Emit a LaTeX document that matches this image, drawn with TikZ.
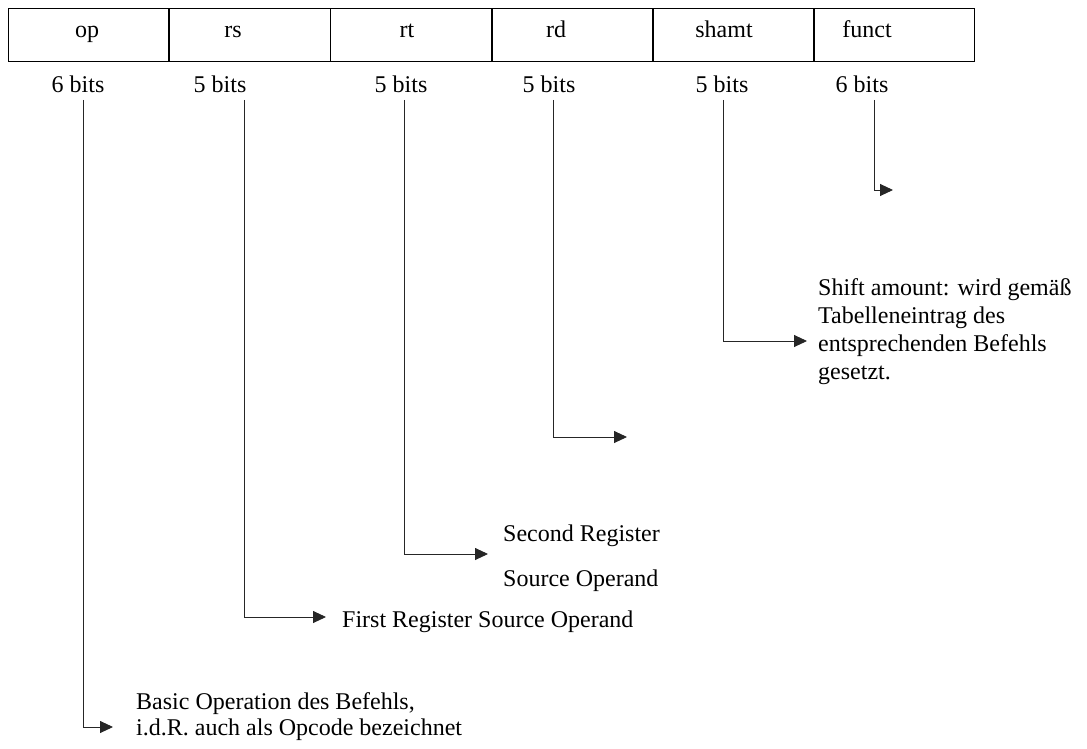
\documentclass[tikz,border=0pt]{standalone}
\usepackage{fontspec}
\setmainfont{Liberation Serif}
\usetikzlibrary{arrows.meta,positioning}
\tikzset{%
    field/.style={%
        rectangle, draw, line width=0.9pt, minimum width=160.3pt, minimum height=53pt, inner sep=0pt
    },
    fieldname/.style={%
        anchor=base, inner sep=0pt
    },
    desc/.style={%
        anchor=base west, align=left, inner sep=0pt
    },
    pointer/.style={%
        -{Triangle[length=13pt,width=12pt]}, line width=0.9pt, draw=black!85
    },
}

\begin{document}
\begin{tikzpicture}[x=1pt,y=-1pt,font=\fontsize{24}{26}\selectfont]
      \useasboundingbox (0,0) rectangle (1087,749);

      % instruction word
      \node[field, anchor=north west] (op) at (8,8) {};
      \node[field, right=0pt of op] (rs) {};
      \node[field, right=0pt of rs] (rt) {};
      \node[field, right=0pt of rt] (rd) {};
      \node[field, right=0pt of rd] (shamt) {};
      \node[field, right=0pt of shamt] (funct) {};

      \node[fieldname] (opname) at (87,38) {op};
      \node[fieldname] (rsname) at (233,38) {rs};
      \node[fieldname] (rtname) at (407,38) {rt};
      \node[fieldname] (rdname) at (556,38) {rd};
      \node[fieldname] (shamtname) at (724,38) {shamt};
      \node[fieldname] (functname) at (867,38) {funct};

      \node[fieldname] (opbits) at (78,93) {6 bits};
      \node[fieldname] (rsbits) at (220,93) {5 bits};
      \node[fieldname] (rtbits) at (401,93) {5 bits};
      \node[fieldname] (rdbits) at (549,93) {5 bits};
      \node[fieldname] (shamtbits) at (722,93) {5 bits};
      \node[fieldname] (functbits) at (862,93) {6 bits};

      % pointers
      \coordinate (optop) at (83,100);
      \coordinate (opend) at (113,727);
      \coordinate (rstop) at (244,100);
      \coordinate (rsend) at (326,617);
      \coordinate (rttop) at (404,100);
      \coordinate (rtend) at (488,554);
      \coordinate (rdtop) at (553,100);
      \coordinate (rdend) at (627,437);
      \coordinate (shamttop) at (723,100);
      \coordinate (shamtend) at (807,341);
      \coordinate (functtop) at (874,100);
      \coordinate (functend) at (893,190);

      \draw [pointer] (optop) |- (opend);
      \draw [pointer] (rstop) |- (rsend);
      \draw [pointer] (rttop) |- (rtend);
      \draw [pointer] (rdtop) |- (rdend);
      \draw [pointer] (shamttop) |- (shamtend);
      \draw [pointer] (functtop) |- (functend);

      % descriptions (base = last line)
      \node[desc] (optext) at (136,735) {Basic Operation des Befehls,\\i.d.R. auch als Opcode bezeichnet};
      \node[desc] (rstext) at (342,627) {First Register Source Operand};
      \node[desc] (rttext) at (503,586) {Second Register\\[19pt]Source Operand};
      \node[desc, font=\fontsize{24}{28}\selectfont] (shamttext) at (818,379) {Shift amount: wird gemäß\\Tabelleneintrag des\\entsprechenden Befehls\\gesetzt.};
\end{tikzpicture}
\end{document}
